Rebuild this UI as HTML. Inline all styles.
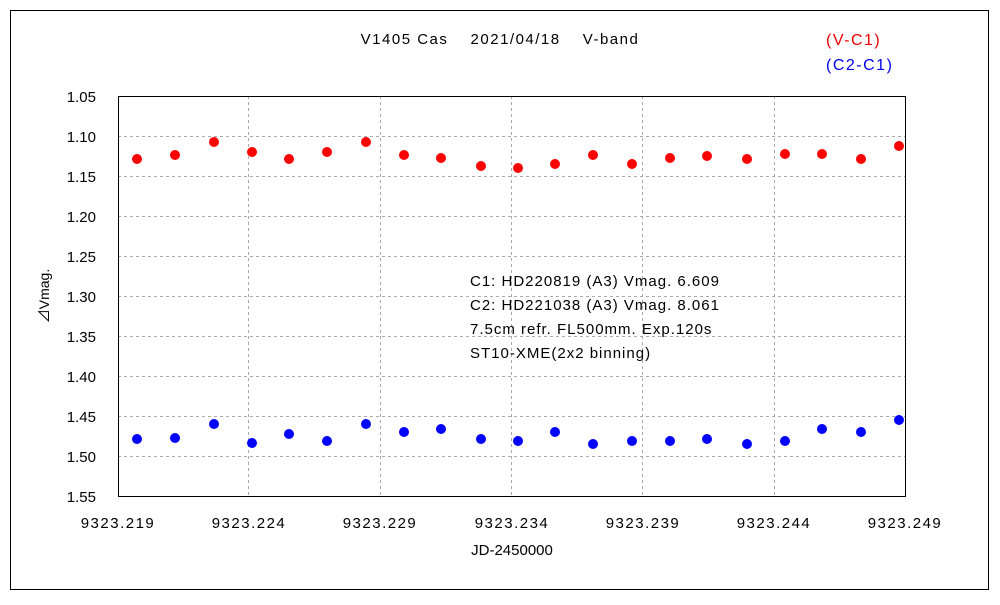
<!DOCTYPE html>
<html><head><meta charset="utf-8"><style>
html,body{margin:0;padding:0;background:#fff;}
svg text{font-family:"Liberation Sans","Noto Sans CJK JP",sans-serif;}
</style></head><body>
<svg width="1000" height="600" xmlns="http://www.w3.org/2000/svg">
<rect x="0" y="0" width="1000" height="600" fill="#fff"/>
<rect x="10.5" y="10.5" width="978" height="579" fill="none" stroke="#000" stroke-width="1"/>
<g stroke="#aaa" stroke-width="1" stroke-dasharray="3,3">
<line x1="118" y1="136.5" x2="905" y2="136.5"/><line x1="118" y1="176.5" x2="905" y2="176.5"/>
<line x1="118" y1="216.5" x2="905" y2="216.5"/><line x1="118" y1="256.5" x2="905" y2="256.5"/>
<line x1="118" y1="296.5" x2="905" y2="296.5"/><line x1="118" y1="336.5" x2="905" y2="336.5"/>
<line x1="118" y1="376.5" x2="905" y2="376.5"/><line x1="118" y1="416.5" x2="905" y2="416.5"/>
<line x1="118" y1="456.5" x2="905" y2="456.5"/>
<line x1="248.5" y1="96" x2="248.5" y2="496"/><line x1="380.5" y1="96" x2="380.5" y2="496"/>
<line x1="511.5" y1="96" x2="511.5" y2="496"/><line x1="642.5" y1="96" x2="642.5" y2="496"/>
<line x1="774.5" y1="96" x2="774.5" y2="496"/>
</g>
<rect x="118.5" y="96.5" width="787" height="400" fill="none" stroke="#000" stroke-width="1"/>
<g font-size="15" fill="#000" text-anchor="end">
<text x="96" y="102">1.05</text><text x="96" y="142">1.10</text><text x="96" y="182">1.15</text>
<text x="96" y="222">1.20</text><text x="96" y="262">1.25</text><text x="96" y="302">1.30</text>
<text x="96" y="342">1.35</text><text x="96" y="382">1.40</text><text x="96" y="422">1.45</text>
<text x="96" y="462">1.50</text><text x="96" y="502">1.55</text>
</g>
<g font-size="15" fill="#000" text-anchor="middle" letter-spacing="1.5">
<text x="118" y="528">9323.219</text><text x="249" y="528">9323.224</text><text x="380" y="528">9323.229</text>
<text x="512" y="528">9323.234</text><text x="643" y="528">9323.239</text><text x="774" y="528">9323.244</text>
<text x="905" y="528">9323.249</text>
</g>
<text x="512" y="555" font-size="15" text-anchor="middle">JD-2450000</text>
<text x="500" y="44" font-size="15" text-anchor="middle" letter-spacing="1.5" xml:space="preserve">V1405 Cas　 2021/04/18　 V-band</text>
<text x="49" y="296" font-size="14" text-anchor="middle" transform="rotate(-90 49 296)">⊿Vmag.</text>
<text x="826" y="45" font-size="16" fill="#e00" letter-spacing="1.5">(V-C1)</text>
<text x="826" y="70" font-size="16" fill="#00e" letter-spacing="1.5">(C2-C1)</text>
<g font-size="15" fill="#000" letter-spacing="1">
<text x="470" y="286">C1: HD220819 (A3) Vmag. 6.609</text>
<text x="470" y="310">C2: HD221038 (A3) Vmag. 8.061</text>
<text x="470" y="334">7.5cm refr. FL500mm. Exp.120s</text>
<text x="470" y="358">ST10-XME(2x2 binning)</text>
</g>
<g fill="#f00">
<circle cx="137" cy="159" r="5"/><circle cx="175" cy="155" r="5"/><circle cx="214" cy="142" r="5"/>
<circle cx="252" cy="152" r="5"/><circle cx="289" cy="159" r="5"/><circle cx="327" cy="152" r="5"/>
<circle cx="366" cy="142" r="5"/><circle cx="404" cy="155" r="5"/><circle cx="441" cy="158" r="5"/>
<circle cx="481" cy="166" r="5"/><circle cx="518" cy="168" r="5"/><circle cx="555" cy="164" r="5"/>
<circle cx="593" cy="155" r="5"/><circle cx="632" cy="164" r="5"/><circle cx="670" cy="158" r="5"/>
<circle cx="707" cy="156" r="5"/><circle cx="747" cy="159" r="5"/><circle cx="785" cy="154" r="5"/>
<circle cx="822" cy="154" r="5"/><circle cx="861" cy="159" r="5"/><circle cx="899" cy="146" r="5"/>
</g>
<g fill="#00f">
<circle cx="137" cy="439" r="5"/><circle cx="175" cy="438" r="5"/><circle cx="214" cy="424" r="5"/>
<circle cx="252" cy="443" r="5"/><circle cx="289" cy="434" r="5"/><circle cx="327" cy="441" r="5"/>
<circle cx="366" cy="424" r="5"/><circle cx="404" cy="432" r="5"/><circle cx="441" cy="429" r="5"/>
<circle cx="481" cy="439" r="5"/><circle cx="518" cy="441" r="5"/><circle cx="555" cy="432" r="5"/>
<circle cx="593" cy="444" r="5"/><circle cx="632" cy="441" r="5"/><circle cx="670" cy="441" r="5"/>
<circle cx="707" cy="439" r="5"/><circle cx="747" cy="444" r="5"/><circle cx="785" cy="441" r="5"/>
<circle cx="822" cy="429" r="5"/><circle cx="861" cy="432" r="5"/><circle cx="899" cy="420" r="5"/>
</g>
</svg>
</body></html>
